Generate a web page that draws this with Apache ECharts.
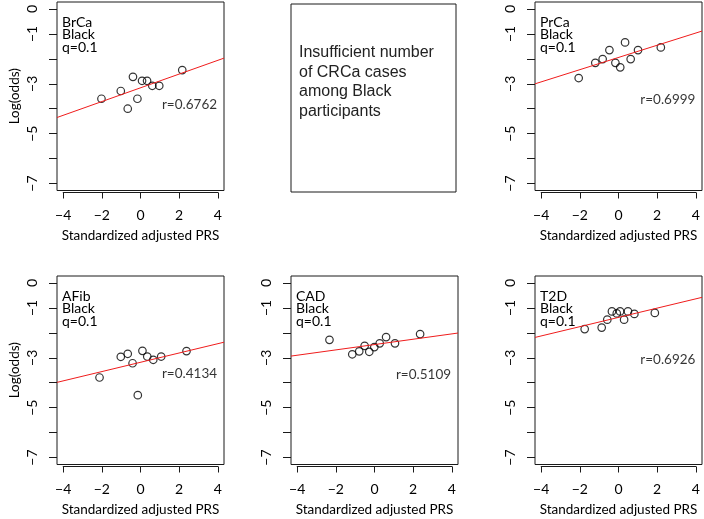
<!DOCTYPE html>
<html><head><meta charset="utf-8">
<script src="https://cdn.jsdelivr.net/npm/echarts@6/dist/echarts.min.js"></script>
<style>html,body{margin:0;padding:0;background:#fff}#c{width:704px;height:519px}</style>
</head><body><div id="c"></div>
<script>
// ---- data ----
const traits = ['BrCa', 'PrCa', 'AFib', 'CAD', 'T2D'];
const ancestry = 'Black';
const qValues = ['0.1', '0.1', '0.1', '0.1', '0.1'];
const rValues = ['0.6762', '0.6999', '0.4134', '0.5109', '0.6926'];

const brcaPRS     = [-2.02, -1.02, -0.39, -0.66, -0.16, 0.08, 0.34, 0.61, 0.97, 2.16];
const brcaLogOdds = [-3.60, -3.29, -2.72, -4.00, -3.60, -2.88, -2.88, -3.08, -3.08, -2.45];
const prcaPRS     = [-2.06, -1.20, -0.82, -0.47, -0.16, 0.09, 0.34, 0.63, 1.01, 2.19];
const prcaLogOdds = [-2.77, -2.16, -2.01, -1.65, -2.16, -2.34, -1.34, -2.01, -1.65, -1.54];
const afibPRS     = [-2.12, -1.02, -0.66, -0.41, -0.14, 0.10, 0.35, 0.66, 1.07, 2.38];
const afibLogOdds = [-3.79, -2.96, -2.84, -3.22, -4.50, -2.72, -2.95, -3.08, -2.95, -2.73];
const cadPRS      = [-2.33, -1.15, -0.79, -0.51, -0.27, -0.01, 0.27, 0.60, 1.06, 2.36];
const cadLogOdds  = [-2.28, -2.86, -2.74, -2.52, -2.76, -2.57, -2.42, -2.17, -2.42, -2.05];
const t2dPRS      = [-1.75, -0.87, -0.58, -0.34, -0.09, 0.08, 0.29, 0.49, 0.82, 1.88];
const t2dLogOdds  = [-1.85, -1.79, -1.47, -1.14, -1.22, -1.14, -1.47, -1.14, -1.24, -1.20];

const fitIntercepts = [-3.162, -1.944, -3.181, -2.47, -1.38];
const fitSlopes     = [0.2756, 0.245, 0.1864, 0.107, 0.186];
const rLabelX = [3.96, 3.98, 3.96, 3.96, 3.98];
const rLabelY = [-3.85, -3.65, -3.65, -3.69, -3.09];

const xTicks = [-4, -2, 0, 2, 4];
const yTicksLabelled = [0, -1, -3, -5, -7];
const missingNote = 'Insufficient number\nof CRCa cases\namong Black\nparticipants';
const xTitle = 'Standardized adjusted PRS';
const yTitle = 'Log(odds)';

const prsX = [brcaPRS, prcaPRS, afibPRS, cadPRS, t2dPRS];
const logOddsY = [brcaLogOdds, prcaLogOdds, afibLogOdds, cadLogOdds, t2dLogOdds];

// ---- layout ----
const FONT = 'Lato';
const colLeft = [57, 291, 535];
const rowTop = [2, 276];
const boxW = 167, boxH = 188.5;
const xPad = 0.04 * 8, yPad = 0.04 * 7;
const ppuX = boxW / (8 + 2 * xPad), ppuY = boxH / (7 + 2 * yPad);
const panelCol = [0, 2, 0, 1, 2];
const panelRow = [0, 0, 1, 1, 1];
const minus = v => (v < 0 ? '\u2212' + (-v) : String(v));

const grid = [], xAxis = [], yAxis = [], series = [], title = [];
traits.forEach((t, i) => {
  const L = colLeft[panelCol[i]], T = rowTop[panelRow[i]];
  grid.push({left: L, top: T, width: boxW, height: boxH, show: true, borderColor: '#1a1a1a', borderWidth: 1, backgroundColor: 'transparent'});
  grid.push({left: L + xPad * ppuX, top: T + yPad * ppuY, width: 8 * ppuX, height: 7 * ppuY});
  const gO = 2 * i, gI = 2 * i + 1;
  xAxis.push({gridIndex: gO, type: 'value', min: -4 - xPad, max: 4 + xPad, show: false});
  yAxis.push({gridIndex: gO, type: 'value', min: -7 - yPad, max: yPad, show: false});
  xAxis.push({
    gridIndex: gI, type: 'value', min: xTicks[0], max: xTicks[xTicks.length - 1], interval: 2,
    position: 'bottom', offset: yPad * ppuY + 2,
    axisLine: {show: true, onZero: false, lineStyle: {color: '#1a1a1a', width: 1}},
    axisTick: {show: true, length: 6, lineStyle: {color: '#1a1a1a', width: 1}},
    axisLabel: {margin: 16, color: '#000', fontSize: 14, fontFamily: FONT, formatter: minus},
    splitLine: {show: false},
    name: xTitle, nameLocation: 'middle', nameGap: 36,
    nameTextStyle: {color: '#000', fontSize: 13.5, fontFamily: FONT}
  });
  yAxis.push({
    gridIndex: gI, type: 'value', min: -7, max: 0, interval: 1,
    position: 'left', offset: xPad * ppuX,
    axisLine: {show: false, onZero: false},
    axisTick: {show: true, length: 8, lineStyle: {color: '#1a1a1a', width: 1}},
    axisLabel: {margin: 18, rotate: 90, color: '#000', fontSize: 14, fontFamily: FONT,
      formatter: v => (yTicksLabelled.includes(v) ? minus(v) : '')},
    splitLine: {show: false},
    name: panelCol[i] === 0 ? yTitle : '', nameLocation: 'middle', nameGap: 35,
    nameTextStyle: {color: '#000', fontSize: 13.5, fontFamily: FONT}
  });
  const a = fitIntercepts[i], b = fitSlopes[i];
  const x0 = -4 - xPad, x1 = 4 + xPad;
  series.push({
    type: 'scatter', xAxisIndex: gO, yAxisIndex: gO, symbol: 'circle', symbolSize: 7.5,
    itemStyle: {color: 'transparent', borderColor: '#000', borderWidth: 1.2},
    data: prsX[i].map((x, k) => [x, logOddsY[i][k]]), z: 2, silent: true
  });
  series.push({
    type: 'line', xAxisIndex: gO, yAxisIndex: gO, showSymbol: false, symbol: 'none',
    lineStyle: {color: '#f01c1c', width: 1}, data: [[x0, a + b * x0], [x1, a + b * x1]], z: 3, silent: true
  });
  series.push({
    type: 'scatter', xAxisIndex: gO, yAxisIndex: gO, symbolSize: 0,
    data: [[rLabelX[i], rLabelY[i]]],
    label: {show: true, position: 'left', distance: 0, formatter: 'r=' + rValues[i],
      color: '#000', fontSize: 13.5, fontFamily: FONT}, silent: true
  });
  title.push({
    text: t + '\n' + ancestry + '\nq=' + qValues[i], left: L + 5, top: T + 14, padding: 0,
    textStyle: {color: '#000', fontSize: 14, fontWeight: 'normal', fontFamily: FONT, lineHeight: 12.5}
  });
});

grid.push({left: 291, top: 4, width: 165, height: 188, show: true, borderColor: '#1a1a1a', borderWidth: 1, backgroundColor: 'transparent'});
xAxis.push({gridIndex: 10, type: 'value', show: false, min: 0, max: 1});
yAxis.push({gridIndex: 10, type: 'value', show: false, min: 0, max: 1});
title.push({
  text: missingNote, left: 299, top: 43, padding: 0,
  textStyle: {color: '#222', fontSize: 16, fontWeight: 'normal', fontFamily: 'Liberation Sans', lineHeight: 19.5}
});

const chart = echarts.init(document.getElementById('c'), null, {renderer: 'canvas'});
chart.setOption({animation: false, backgroundColor: '#fff', grid, xAxis, yAxis, series, title});
</script></body></html>
